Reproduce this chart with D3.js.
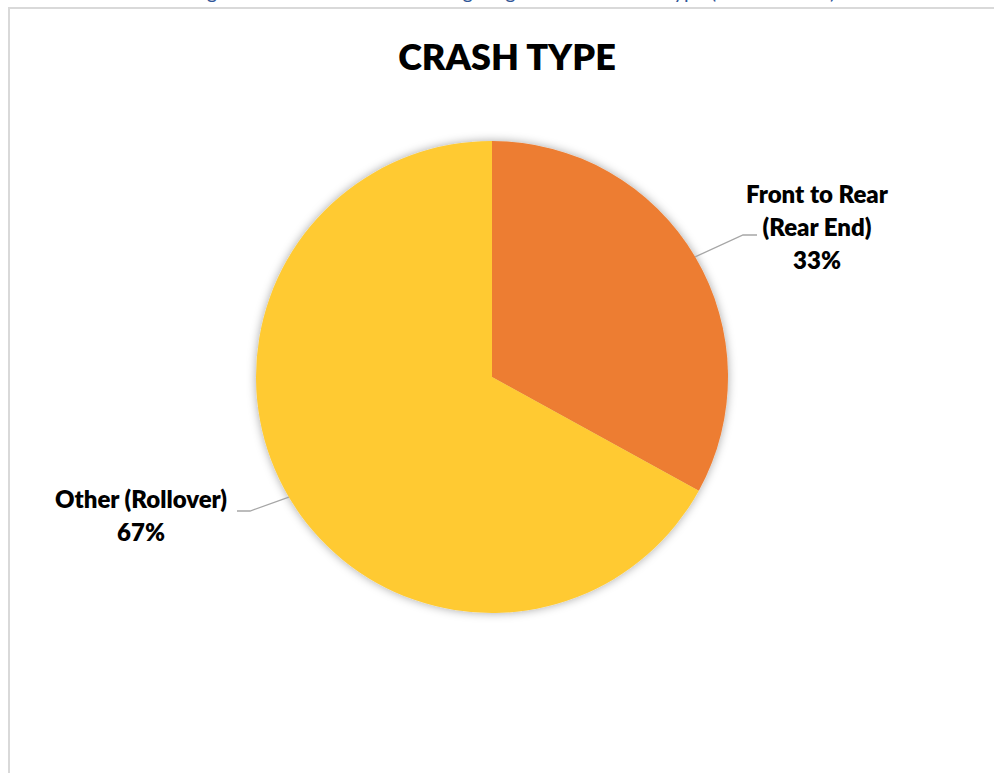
<!DOCTYPE html>
<html>
<head>
<meta charset="utf-8">
<script src="https://cdn.jsdelivr.net/npm/d3@7"></script>
<style>
  html, body { margin: 0; padding: 0; background: #ffffff; }
  svg { display: block; }
</style>
</head>
<body>
<svg id="chart" width="994" height="773"></svg>
<script>
// Crash type shares (percent)
const categories = ["Front to Rear (Rear End)", "Other (Rollover)"];
const labelLines = [["Front to Rear", "(Rear End)"], ["Other (Rollover)"]];
const values = [33, 67];
const colors = ["#ED7D31", "#FFCA32"];
const chartTitle = "CRASH TYPE";
const captionText = "Figure 4: Fatal Crashes Involving Large Trucks – Crash Type (10-Year Total)";

const svg = d3.select("#chart");
const FONT = "Lato, 'Open Sans', 'DejaVu Sans', sans-serif";

// caption sitting above the chart frame
svg.append("text")
  .attr("x", 513).attr("y", -1)
  .attr("text-anchor", "middle")
  .attr("font-family", FONT)
  .attr("font-size", 20)
  .attr("fill", "#2F5597")
  .text(captionText);

// chart frame
svg.append("rect")
  .attr("x", 9).attr("y", 8)
  .attr("width", 1000).attr("height", 800)
  .attr("fill", "#ffffff")
  .attr("stroke", "#D9D9D9")
  .attr("stroke-width", 2);

// title
svg.append("text")
  .attr("x", 507).attr("y", 70)
  .attr("text-anchor", "middle")
  .attr("font-family", FONT)
  .attr("font-weight", 800)
  .attr("font-size", 36)
  .attr("fill", "#000000")
  .text(chartTitle);

// soft shadow around the pie
const defs = svg.append("defs");
const f = defs.append("filter").attr("id", "pieShadow")
  .attr("x", "-20%").attr("y", "-20%").attr("width", "140%").attr("height", "140%");
f.append("feDropShadow")
  .attr("dx", 0).attr("dy", 0)
  .attr("stdDeviation", 5)
  .attr("flood-color", "#000000")
  .attr("flood-opacity", 0.35);

const cx = 492, cy = 377, R = 236;
const pie = d3.pie().sort(null).value(d => d)(values);
const arc = d3.arc().innerRadius(0).outerRadius(R);
const edgeArc = d3.arc().innerRadius(R).outerRadius(R);

const g = svg.append("g").attr("transform", `translate(${cx},${cy})`);
g.append("g").attr("filter", "url(#pieShadow)")
  .selectAll("path")
  .data(pie)
  .join("path")
  .attr("d", arc)
  .attr("fill", (d, i) => colors[i]);

// data labels with leader lines
const fmt = d3.format(".0%");
const total = d3.sum(values);
const labelSpec = [
  { x: 817, y: 203, elbow: [251, -142], end: [265, -142] },
  { x: 141, y: 508, elbow: [-242, 134], end: [-255, 134] }
];

pie.forEach((d, i) => {
  const s = labelSpec[i];
  const p = edgeArc.centroid(d);
  g.append("polyline")
    .attr("points", [p, s.elbow, s.end].map(q => q.join(",")).join(" "))
    .attr("fill", "none")
    .attr("stroke", "#A6A6A6")
    .attr("stroke-width", 1.3);

  const lines = labelLines[i].concat([fmt(values[i] / total)]);
  const t = svg.append("text")
    .attr("text-anchor", "middle")
    .attr("font-family", FONT)
    .attr("font-weight", 800)
    .attr("font-size", 24)
    .attr("fill", "#000000");
  lines.forEach((ln, k) => {
    t.append("tspan").attr("x", s.x).attr("y", s.y + k * 33).text(ln);
  });
});
</script>
</body>
</html>
